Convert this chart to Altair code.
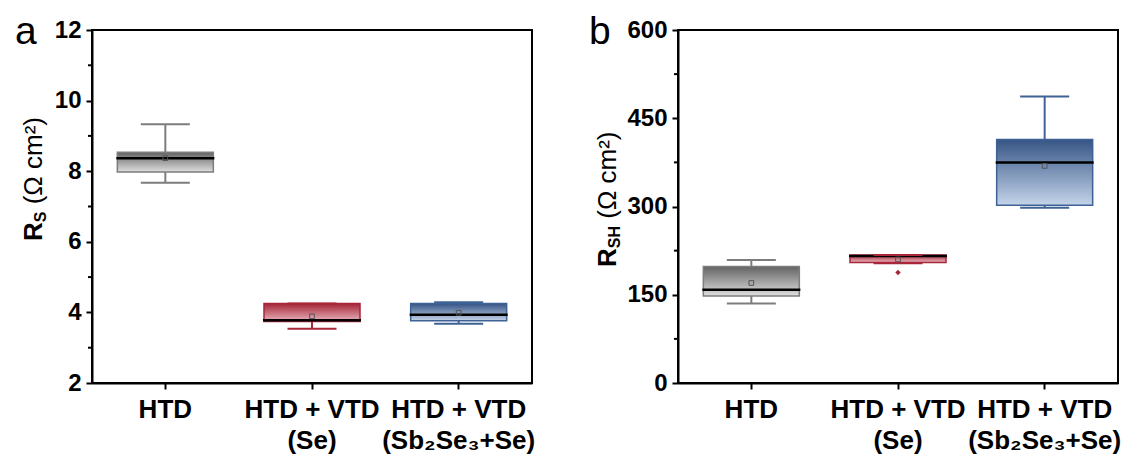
import altair as alt
import pandas as pd

FONT = "Liberation Sans"

groups = ["HTD", "HTD + VTD\n(Se)", "HTD + VTD\n(Sb₂Se₃+Se)"]

border_colors = ["#7d7d7d", "#a8263a", "#3f6296"]
grad_top = ["#636363", "#a42537", "#365585"]
grad_bottom = ["#dedede", "#e9b6be", "#c4d4ea"]

# Panel a: series resistance R_S (Ohm cm^2)
rs_min = [7.67, 3.54, 3.68]
rs_q1 = [7.98, 3.74, 3.76]
rs_med = [8.37, 3.78, 3.93]
rs_q3 = [8.54, 4.25, 4.25]
rs_max = [9.33, 4.25, 4.29]
rs_mean = [8.37, 3.89, 3.99]
rs_out_group = []
rs_out_val = []
rs_ticks = [2, 4, 6, 8, 10, 12]
rs_minor = [3, 5, 7, 9, 11]

# Panel b: shunt resistance R_SH (Ohm cm^2)
rsh_min = [135, 203.5, 298]
rsh_q1 = [148, 205, 302]
rsh_med = [158.5, 216, 375]
rsh_q3 = [198, 217.5, 414]
rsh_max = [209, 217.5, 487]
rsh_mean = [170, 210, 369]
rsh_out_group = ["HTD + VTD\n(Se)"]
rsh_out_val = [188]
rsh_ticks = [0, 150, 300, 450, 600]
rsh_minor = [75, 225, 375, 525]

title_main = ["R"]
title_unit = ["(Ω cm²)"]
sub_a = ["S"]
sub_b = ["SH"]
letter_a = ["a"]
letter_b = ["b"]

W = 440
H = 353
TFS = 26   # title font size
SFS = 16   # subscript font size
LFS = 39   # panel letter font size


def make_panel(mins, q1s, meds, q3s, maxs, means, out_g, out_v, domain, ticks, minor,
               letter, sub, tx, ty, lx, ly):
    df = pd.DataFrame({"group": groups, "lo": mins, "q1": q1s, "med": meds,
                       "q3": q3s, "hi": maxs, "mean": means})
    xenc = alt.X("group:N", sort=groups, title=None,
                 scale=alt.Scale(domain=groups, paddingInner=0, paddingOuter=0),
                 axis=alt.Axis(labelExpr="split(datum.label, '\\n')", labelAngle=0,
                               labelFontSize=26, labelLineHeight=31, labelPadding=7))
    yscale = alt.Scale(domain=domain, nice=False, zero=False)

    def Y(f):
        return alt.Y(f"{f}:Q", scale=yscale, title=None,
                     axis=alt.Axis(values=ticks, format="d", labelFontSize=24,
                                   labelPadding=5))

    col = alt.Color("group:N", scale=alt.Scale(domain=groups, range=border_colors),
                    legend=None)
    base = alt.Chart(df)
    layers = []
    layers.append(base.mark_rule(strokeWidth=2).encode(x=xenc, y=Y("lo"), y2="q1", color=col))
    layers.append(base.mark_rule(strokeWidth=2).encode(x=xenc, y=Y("q3"), y2="hi", color=col))
    for g, top, bot, bc in zip(groups, grad_top, grad_bottom, border_colors):
        grad = alt.LinearGradient(
            gradient="linear",
            stops=[alt.GradientStop(offset=0, color=top),
                   alt.GradientStop(offset=1, color=bot)],
            x1=0, x2=0, y1=0, y2=1)
        layers.append(
            base.mark_bar(size=96, fill=grad, stroke=bc, strokeWidth=1.5, opacity=1)
            .encode(x=xenc, y=Y("q1"), y2="q3")
            .transform_filter(alt.FieldEqualPredicate(field="group", equal=g)))
    layers.append(base.mark_tick(size=98, thickness=2.5, color="black", opacity=1)
                  .encode(x=xenc, y=Y("med")))
    layers.append(base.mark_point(shape="square", filled=False, size=22, color="#555555",
                                  strokeWidth=1, opacity=1)
                  .encode(x=xenc, y=Y("mean")))
    layers.append(base.mark_tick(size=49, thickness=2, opacity=1)
                  .encode(x=xenc, y=Y("lo"), color=col))
    layers.append(base.mark_tick(size=49, thickness=2, opacity=1)
                  .encode(x=xenc, y=Y("hi"), color=col))
    if out_g:
        odf = pd.DataFrame({"group": out_g, "v": out_v})
        layers.append(alt.Chart(odf).mark_point(shape="diamond", filled=True, size=30,
                                                opacity=1)
                      .encode(x=xenc, y=Y("v"), color=col))
    mdf = pd.DataFrame({"v": minor})
    layers.append(alt.Chart(mdf).mark_rule(color="black", strokeWidth=2)
                  .encode(y=Y("v"), x=alt.value(-4), x2=alt.value(0)))

    # axis title pieces (rotated)
    wR = 0.722 * TFS
    wS = (0.667 * SFS) if sub == ["S"] else ((0.667 + 0.722) * SFS)
    wSp = 0.278 * TFS
    layers.append(alt.Chart(pd.DataFrame({"t": title_main}))
                  .mark_text(angle=270, align="left", baseline="alphabetic", font=FONT,
                             fontSize=TFS, fontWeight="bold", color="black")
                  .encode(text="t:N", x=alt.value(tx), y=alt.value(ty)))
    layers.append(alt.Chart(pd.DataFrame({"t": sub}))
                  .mark_text(angle=270, align="left", baseline="alphabetic", font=FONT,
                             fontSize=SFS, fontWeight="bold", color="black")
                  .encode(text="t:N", x=alt.value(tx + 4), y=alt.value(ty - wR)))
    layers.append(alt.Chart(pd.DataFrame({"t": title_unit}))
                  .mark_text(angle=270, align="left", baseline="alphabetic", font=FONT,
                             fontSize=TFS, fontWeight="normal", color="black")
                  .encode(text="t:N", x=alt.value(tx), y=alt.value(ty - wR - wS - wSp)))
    layers.append(alt.Chart(pd.DataFrame({"t": letter}))
                  .mark_text(align="left", baseline="alphabetic", font=FONT,
                             fontSize=LFS, fontWeight="normal", color="black")
                  .encode(text="t:N", x=alt.value(lx), y=alt.value(ly)))
    return alt.layer(*layers).properties(width=W, height=H)


panel_a = make_panel(rs_min, rs_q1, rs_med, rs_q3, rs_max, rs_mean, rs_out_group, rs_out_val,
                     [2, 12], rs_ticks, rs_minor, letter_a, sub_a, -50, 211, -77, 14)
panel_b = make_panel(rsh_min, rsh_q1, rsh_med, rsh_q3, rsh_max, rsh_mean, rsh_out_group,
                     rsh_out_val, [0, 600], rsh_ticks, rsh_minor, letter_b, sub_b, -62, 237,
                     -89, 14)

chart = alt.hconcat(panel_a, panel_b, spacing=52).properties(
    padding={"left": 6, "top": 4, "right": 0, "bottom": 0},
    background="white"
).configure_view(stroke="black", strokeWidth=2).configure_axis(
    domainColor="black", domainWidth=2, tickColor="black", tickWidth=2, tickSize=6,
    labelFont=FONT, labelFontWeight="bold", labelColor="black", grid=False
)

chart.save("out.html", embed_options={"renderer": "svg", "actions": False})
